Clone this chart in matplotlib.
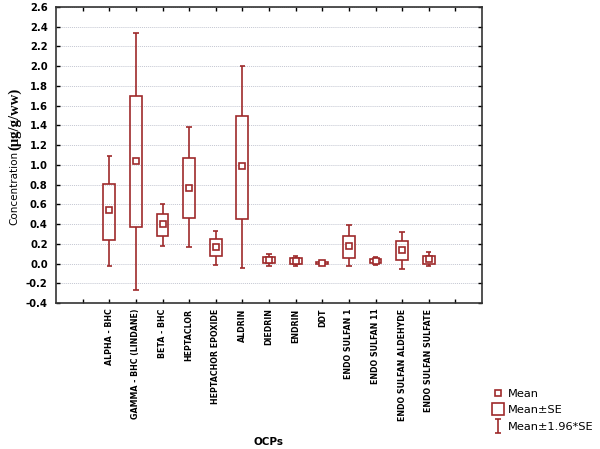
import matplotlib
matplotlib.use("Agg")
import matplotlib.pyplot as plt
import numpy as np
from matplotlib.path import Path
from matplotlib.lines import Line2D

categories = ["ALPHA - BHC", "GAMMA - BHC (LINDANE)", "BETA - BHC", "HEPTACLOR",
              "HEPTACHOR EPOXIDE", "ALDRIN", "DIEDRIN", "ENDRIN", "DDT",
              "ENDO SULFAN 1", "ENDO SULFAN 11", "ENDO SULFAN ALDEHYDE", "ENDO SULFAN SULFATE"]
mean = [0.54, 1.04, 0.40, 0.77, 0.17, 0.985, 0.04, 0.03, 0.005, 0.18, 0.03, 0.14, 0.045]
se_low = [0.24, 0.37, 0.28, 0.46, 0.08, 0.455, 0.005, 0.0, -0.005, 0.06, 0.01, 0.035, 0.0]
se_high = [0.81, 1.70, 0.50, 1.07, 0.245, 1.50, 0.07, 0.06, 0.015, 0.28, 0.05, 0.23, 0.08]
ci_low = [-0.03, -0.27, 0.18, 0.17, -0.01, -0.05, -0.02, -0.02, -0.01, -0.03, -0.01, -0.055, -0.03]
ci_high = [1.09, 2.34, 0.60, 1.38, 0.33, 2.005, 0.10, 0.08, 0.02, 0.39, 0.07, 0.317, 0.114]
yticks = [-0.4, -0.2, 0.0, 0.2, 0.4, 0.6, 0.8, 1.0, 1.2, 1.4, 1.6, 1.8, 2.0, 2.2, 2.4, 2.6]

col = "#9e2a2b"
fig = plt.figure(figsize=(6, 4.49), dpi=100)
ax = fig.add_axes([56/600, 1-303/449, (482-56)/600, (303-7)/449])

x = np.arange(1, len(categories)+1)
bw = 0.45
ax.bar(x, np.array(se_high)-np.array(se_low), bottom=se_low, width=bw,
       fill=False, edgecolor=col, linewidth=1.2, zorder=3)
ax.vlines(x, ci_low, se_low, color=col, linewidth=1.2, zorder=3)
ax.vlines(x, se_high, ci_high, color=col, linewidth=1.2, zorder=3)
ax.hlines(ci_low, x-0.1, x+0.1, color=col, linewidth=1.2, zorder=3)
ax.hlines(ci_high, x-0.1, x+0.1, color=col, linewidth=1.2, zorder=3)
ax.plot(x, mean, linestyle="none", marker="s", markersize=4.5, markerfacecolor="white",
        markeredgecolor=col, markeredgewidth=1.2, zorder=4)

ax.set_xlim(-1, 15)
ax.set_ylim(-0.4, 2.6)
ax.set_xticks(np.arange(0, 15))
ax.set_xticklabels([""] + categories + [""], rotation=90, fontsize=5.7,
                   fontweight="bold", family=["Liberation Sans Narrow", "DejaVu Sans"])
ax.set_yticks(yticks)
ax.set_yticklabels([f"{v:.1f}" for v in yticks], fontsize=7.2, fontweight="bold",
                   family=["DejaVu Sans"])
ax.tick_params(axis="both", direction="in", top=True, right=True, length=3, width=1)
ax.tick_params(axis="y", pad=6)
ax.tick_params(axis="x", pad=4)
ax.yaxis.grid(True, linestyle=(0, (1, 1)), color="#c4c7d2", linewidth=0.7)
ax.set_axisbelow(True)
for s in ax.spines.values():
    s.set_linewidth(1.2)
    s.set_color("#333333")

fig.text(268/600, 1-442/449, "OCPs", ha="center", va="center", fontsize=7.5,
         fontweight="bold", family=["DejaVu Sans"])
fig.text(17/600, 1-151/449, "Concentration", rotation=90, rotation_mode="anchor",
         ha="right", va="baseline",
         fontsize=7.5, family=["Liberation Sans Narrow", "DejaVu Sans"])
fig.text(18/600, 1-150/449, "(\u03bcg/g/ww)", rotation=90, rotation_mode="anchor",
         ha="left", va="baseline",
         fontsize=10.5, fontweight="bold", family=["Liberation Serif", "DejaVu Serif"])

ipath = Path([(-0.5, -1), (0.5, -1), (0, -1), (0, 1), (-0.5, 1), (0.5, 1)],
             [Path.MOVETO, Path.LINETO, Path.MOVETO, Path.LINETO, Path.MOVETO, Path.LINETO])
handles = [
    Line2D([], [], linestyle="none", marker="s", markersize=4.5, markerfacecolor="white",
           markeredgecolor=col, markeredgewidth=1.2),
    Line2D([], [], linestyle="none", marker="s", markersize=9, markerfacecolor="white",
           markeredgecolor=col, markeredgewidth=1.2),
    Line2D([], [], linestyle="none", marker=ipath, markersize=10, markerfacecolor="none",
           markeredgecolor=col, markeredgewidth=1.2),
]
labels = ["Mean", "Mean\u00b1SE", "Mean\u00b11.96*SE"]
fig.legend(handles, labels, loc="upper left", bbox_to_anchor=(488/600, 1-384/449),
           frameon=False, handlelength=1.0, handletextpad=0.35,
           labelspacing=0.6, borderaxespad=0,
           prop={"family": ["DejaVu Sans"], "size": 8.2})

fig.savefig("out.png", dpi=100)
